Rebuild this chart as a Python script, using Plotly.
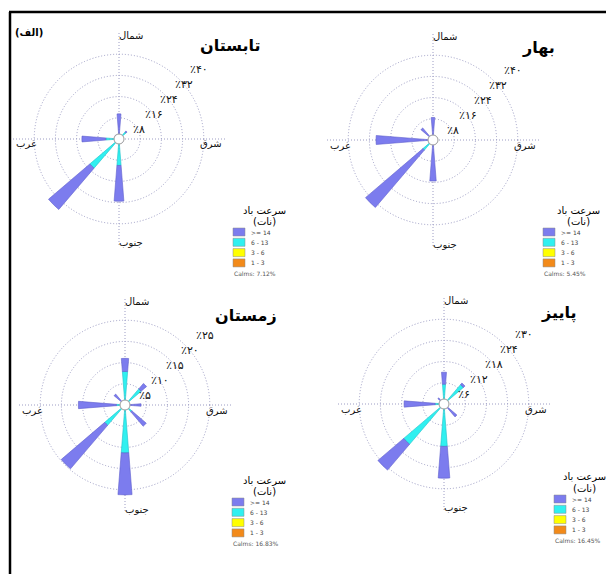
import math
import plotly.graph_objects as go

W, H = 606, 574

# compass sectors (degrees clockwise from north)
directions = ["N", "NE", "E", "SE", "S", "SW", "W", "NW"]
dir_angles = [0, 45, 90, 135, 180, 225, 270, 315]

# wind-speed classes, innermost first (knots)
speed_bins = ["1 - 3", "3 - 6", "6 - 13", ">= 14"]
bin_colors = ["#f28a1a", "#ffff00", "#30f0f0", "#7c7cee"]
bin_edges = ["#c86a10", "#c8c800", "#20c0c8", "#5f5fcc"]

# frequency (%) of each speed class per sector
summer_1_3 = [0.2, 0.2, 0.2, 0.2, 0.2, 0.2, 0.2, 0.2]
summer_3_6 = [0.3, 0.3, 0.3, 0.3, 0.3, 0.3, 0.3, 0.3]
summer_6_13 = [1.0, 3.0, 0.4, 0.5, 9.5, 14.0, 4.5, 0.5]
summer_14 = [8.0, 0.5, 0.5, 0.8, 13.5, 20.5, 9.0, 1.0]

spring_1_3 = [0.2, 0.2, 0.2, 0.2, 0.2, 0.2, 0.2, 0.2]
spring_3_6 = [0.3, 0.3, 0.3, 0.3, 0.3, 0.3, 0.3, 0.3]
spring_6_13 = [0.8, 0.4, 0.4, 0.4, 0.8, 4.5, 1.0, 0.5]
spring_14 = [7.2, 0.6, 0.5, 0.8, 14.2, 28.5, 20.0, 5.0]

winter_1_3 = [0.1, 0.1, 0.1, 0.1, 0.1, 0.1, 0.1, 0.1]
winter_3_6 = [0.2, 0.2, 0.2, 0.2, 0.2, 0.2, 0.2, 0.2]
winter_6_13 = [7.6, 4.7, 0.5, 1.8, 11.0, 6.0, 1.7, 0.5]
winter_14 = [3.1, 1.7, 3.0, 4.5, 9.9, 13.5, 9.0, 2.6]

autumn_1_3 = [0.1, 0.1, 0.1, 0.1, 0.1, 0.1, 0.1, 0.1]
autumn_3_6 = [0.2, 0.2, 0.2, 0.2, 0.2, 0.2, 0.2, 0.2]
autumn_6_13 = [5.3, 6.9, 0.3, 0.8, 11.7, 14.7, 2.2, 0.3]
autumn_14 = [3.4, 0.6, 0.5, 3.7, 9.0, 9.6, 8.8, 1.7]

# ring values and their labels
rings_40 = [8, 16, 24, 32, 40]
labels_40 = ["٪۸", "٪۱۶", "٪۲۴", "٪۳۲", "٪۴۰"]
rings_25 = [5, 10, 15, 20, 25]
labels_25 = ["٪۵", "٪۱۰", "٪۱۵", "٪۲۰", "٪۲۵"]
rings_30 = [6, 12, 18, 24, 30]
labels_30 = ["٪۶", "٪۱۲", "٪۱۸", "٪۲۴", "٪۳۰"]

season_titles = ["تابستان", "بهار", "زمستان", "پاییز"]
calms = ["Calms: 7.12%", "Calms: 5.45%", "Calms: 16.83%", "Calms: 16.45%"]
compass_names = ["شمال", "شرق", "جنوب", "غرب"]
legend_title = "سرعت باد"
legend_unit = "(نات)"
legend_labels = [">= 14", "6 - 13", "3 - 6", "1 - 3"]
panel_tag = "(الف)"

FONT = "DejaVu Sans"
R = 106          # polar radius in px
LABEL_ANGLE = 45  # direction of the ring labels (deg, counter-clockwise from east)

panels = [
    dict(key="polar", data=[summer_1_3, summer_3_6, summer_6_13, summer_14],
         rings=rings_40, labels=labels_40, cx=119, cy=139,
         title_xy=(230, 45), leg=(233, 232, 264)),
    dict(key="polar2", data=[spring_1_3, spring_3_6, spring_6_13, spring_14],
         rings=rings_40, labels=labels_40, cx=433, cy=140,
         title_xy=(538, 48), leg=(543, 232, 578)),
    dict(key="polar3", data=[winter_1_3, winter_3_6, winter_6_13, winter_14],
         rings=rings_25, labels=labels_25, cx=125, cy=405,
         title_xy=(246, 315), leg=(232, 502, 264)),
    dict(key="polar4", data=[autumn_1_3, autumn_3_6, autumn_6_13, autumn_14],
         rings=rings_30, labels=labels_30, cx=444, cy=404,
         title_xy=(559, 313), leg=(554, 499, 584)),
]


def px(x):
    return x / W


def py(y):
    return 1 - y / H


fig = go.Figure()
annotations = []
shapes = []
grid_col = "#9c9cc4"
ca = math.cos(math.radians(LABEL_ANGLE))
sa = math.sin(math.radians(LABEL_ANGLE))

for i, p in enumerate(panels):
    sub = p["key"]
    for b in range(4):
        fig.add_trace(go.Barpolar(
            r=p["data"][b], theta=dir_angles, width=9,
            name=speed_bins[b], subplot=sub, showlegend=False,
            marker=dict(color=bin_colors[b],
                        line=dict(color=bin_edges[b], width=0.6)),
        ))
    cx, cy = p["cx"], p["cy"]
    rmax = p["rings"][-1]
    fig.update_layout(**{sub: dict(
        domain=dict(x=[px(cx - R), px(cx + R)], y=[py(cy + R), py(cy - R)]),
        bgcolor="rgba(0,0,0,0)",
        barmode="stack",
        radialaxis=dict(range=[0, rmax], tickvals=p["rings"],
                        showticklabels=False, showline=False, ticks="",
                        gridcolor=grid_col, griddash="1px,2px", gridwidth=1),
        angularaxis=dict(direction="clockwise", rotation=90,
                         tickvals=[0, 90, 180, 270], showticklabels=False,
                         ticks="", showline=False,
                         gridcolor=grid_col, griddash="1px,2px", gridwidth=1),
    )})

    # ring labels, set just below-right of each ring along the label direction
    for rv, lab in zip(p["rings"], p["labels"]):
        rp = rv / rmax * R
        lx = cx + rp * ca + 5
        ly = cy - rp * sa + 5
        annotations.append(dict(x=px(lx), y=py(ly), text=lab, showarrow=False,
                                xanchor="center", yanchor="middle",
                                font=dict(family=FONT, size=11, color="#111")))

    # compass labels
    for name, (dx, dy) in zip(compass_names,
                              [(12, -104), (92, 5), (12, 104), (-93, 5)]):
        annotations.append(dict(x=px(cx + dx), y=py(cy + dy), text=name,
                                showarrow=False, xanchor="center",
                                yanchor="middle",
                                font=dict(family=FONT, size=10, color="#111")))
    # calm circle at the centre
    shapes.append(dict(type="circle", xref="paper", yref="paper",
                       x0=px(cx - 5), x1=px(cx + 5), y0=py(cy + 5),
                       y1=py(cy - 5), fillcolor="white",
                       line=dict(color="#9a9a9a", width=1), layer="above"))
    # season title
    tx, ty = p["title_xy"]
    annotations.append(dict(x=px(tx), y=py(ty), text="<b>%s</b>" % season_titles[i],
                            showarrow=False, xanchor="center", yanchor="middle",
                            font=dict(family=FONT, size=16, color="black")))
    # speed legend
    bx, by, tcx = p["leg"]
    annotations.append(dict(x=px(tcx), y=py(by - 22), text=legend_title,
                            showarrow=False, xanchor="center", yanchor="middle",
                            font=dict(family=FONT, size=10, color="black")))
    annotations.append(dict(x=px(tcx), y=py(by - 10.5), text=legend_unit,
                            showarrow=False, xanchor="center", yanchor="middle",
                            font=dict(family=FONT, size=10, color="black")))
    for k, lab in enumerate(legend_labels):
        ry = by + k * 10.3
        col = bin_colors[3 - k]
        shapes.append(dict(type="rect", xref="paper", yref="paper",
                           x0=px(bx), x1=px(bx + 12), y0=py(ry + 4),
                           y1=py(ry - 4), fillcolor=col,
                           line=dict(color="#888", width=0.5)))
        annotations.append(dict(x=px(bx + 16), y=py(ry), text=lab,
                                showarrow=False, xanchor="left",
                                yanchor="middle",
                                font=dict(family=FONT, size=6, color="#444")))
    annotations.append(dict(x=px(bx - 1), y=py(by + 3 * 10.3 + 11),
                            text=calms[i], showarrow=False, xanchor="left",
                            yanchor="middle",
                            font=dict(family=FONT, size=6, color="#555")))

annotations.append(dict(x=px(29), y=py(33), text="<b>%s</b>" % panel_tag,
                        showarrow=False, xanchor="center", yanchor="middle",
                        font=dict(family=FONT, size=10, color="black")))

# outer frame
shapes.append(dict(type="line", xref="paper", yref="paper",
                   x0=px(10), x1=px(10), y0=0, y1=py(12),
                   line=dict(color="black", width=2.5)))
shapes.append(dict(type="line", xref="paper", yref="paper",
                   x0=px(9), x1=1, y0=py(12), y1=py(12),
                   line=dict(color="black", width=2.5)))

fig.update_layout(width=W, height=H, margin=dict(l=0, r=0, t=0, b=0),
                  paper_bgcolor="white", plot_bgcolor="white",
                  annotations=annotations, shapes=shapes, showlegend=False)

fig.write_html("out.html")
